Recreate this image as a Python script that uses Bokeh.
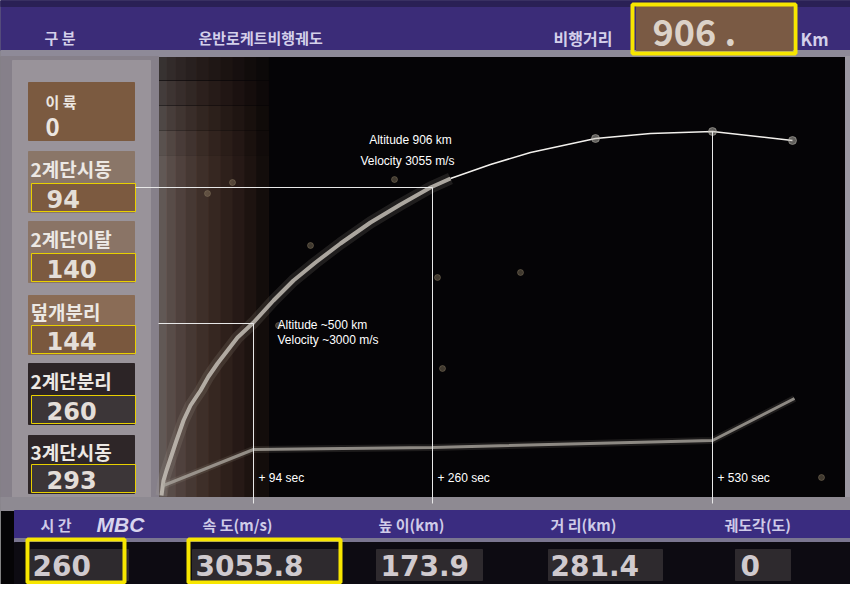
from bokeh.plotting import figure
from bokeh.models import Range1d
from bokeh.core.properties import value
from bokeh.embed import file_html
from bokeh.resources import INLINE

# flight track (plot units: x downrange, y altitude)
arc_x = [1, 3, 6, 10, 16, 23, 30, 40, 48, 57, 67, 77, 93, 113, 133, 155, 180, 210, 240, 270, 290]
arc_y = [0, 15, 25, 37, 55, 75, 90, 105, 119, 132, 145, 158, 173, 195, 215, 233, 252, 273, 291, 308, 317]
track_x = [290, 330, 370, 435, 490, 552, 632]
track_y = [317, 331, 343, 357, 362, 364, 355]
ground_x = [3, 93, 272, 552, 634]
ground_y = [10, 46, 48, 55, 97]
dot_x = [435, 552, 632]
dot_y = [357, 364, 355]
speck_x = [234, 277, 360, 282, 661, 72, 47, 150, 118]
speck_y = [316, 218, 223, 127, 18, 313, 302, 250, 170]

event_sec = [94, 260, 530]
event_x = [93, 272, 552]
event_y = [172, 308, 364]
leader_x0 = [-2, -25]
leader_y = [172, 308]

stage_labels = ["2계단시동", "2계단이탈", "덮개분리", "2계단분리", "3계단시동"]
stage_sec = [94, 140, 144, 260, 293]

tele_heads = ["시 간", "속 도(m/s)", "높 이(km)", "거 리(km)", "궤도각(도)"]
tele_vals = ["260", "3055.8", "173.9", "281.4", "0"]
range_km = 906

KR = value("Noto Sans CJK KR")
NUM = value("DejaVu Sans")
LAT = value("Liberation Sans")

p = figure(width=850, height=584, x_range=Range1d(0, 850), y_range=Range1d(584, 0),
           x_axis_location=None, y_axis_location=None, toolbar_location=None, tools="",
           output_backend="svg", min_border=0, outline_line_color=None,
           background_fill_color="#050406", border_fill_color="#050406")
p.grid.visible = False
p.extra_x_ranges = {"trk": Range1d(-160, 690)}
p.extra_y_ranges = {"trk": Range1d(-89, 495)}

# --- reddish reflection on the left of the screen
band_l = [158, 166, 175, 185, 196, 208, 220, 232, 244, 256]
band_c = ["#6c625e", "#625450", "#584844", "#4e3e38", "#45342e",
          "#3c2b25", "#33231e", "#2a1c18", "#201512", "#150e0c"]
p.quad(left=band_l, right=band_l[1:] + [268], top=56, bottom=497, color=band_c, alpha=0.9)
p.quad(left=158, right=268, top=[56, 80, 105, 130], bottom=[80, 105, 130, 155],
       color="#050406", alpha=[0.45, 0.32, 0.2, 0.08])

# --- top bar
p.quad(left=0, right=850, top=0, bottom=50, color="#3b2c78")
p.quad(left=0, right=850, top=0, bottom=6, color="#2a2055")
p.quad(left=0, right=850, top=50, bottom=56, color="#8e8a98")
p.quad(left=636, right=792, top=6, bottom=50, color="#7a5a44")
p.text(x=[44, 198, 553, 652, 800], y=[37, 37, 37, 29, 38],
       text=["구 분", "운반로케트비행궤도", "비행거리", f"{range_km} .", "Km"],
       text_font=KR, text_font_style="bold", text_baseline="middle",
       text_font_size=["15px", "15px", "16px", "36px", "17px"],
       text_color=["#d4d0ea", "#d4d0ea", "#d4d0ea", "#dcd2c8", "#d4d0ea"])
p.quad(left=632, right=795, top=4, bottom=53, fill_color=None,
       line_color="#f7e600", line_width=4)

# --- left panel
p.quad(left=0, right=158, top=56, bottom=503, color="#86808a")
p.quad(left=12, right=150, top=60, bottom=500, color="#99939a")
p.quad(left=28, right=134, top=82, bottom=140, color="#7b5a40")
p.text(x=[45, 45], y=[101, 126], text=["이 륙", "0"], text_font=KR, text_font_style="bold",
       text_font_size=["15px", "24px"], text_color="#ece6e0", text_baseline="middle")

label_top = [153, 223, 297, 365, 437]
value_top = [183, 253, 325, 395, 464]
value_bot = [211, 281, 353, 423, 492]
block = ["#8a7668", "#8a7466", "#8a6c56", "#2c2426", "#2e2628"]
box = ["#7c5a40", "#7c5a40", "#7a583e", "#3c3638", "#3c3638"]
p.quad(left=28, right=134, top=[t - 2 for t in label_top], bottom=[b + 1 for b in value_bot], color=block)
p.quad(left=32, right=134, top=value_top, bottom=value_bot, color=box)
p.text(x=30, y=[(a + b) / 2 for a, b in zip(label_top, value_top)], text=stage_labels,
       text_font=KR, text_font_style="bold", text_font_size="19px",
       text_color="#ece8e4", text_baseline="middle")
p.text(x=46, y=[(a + b) / 2 + 1 for a, b in zip(value_top, value_bot)], text=[str(s) for s in stage_sec],
       text_font=NUM, text_font_style="bold", text_font_size="24px",
       text_color="#e4ded8", text_baseline="middle")
p.quad(left=31, right=135, top=value_top, bottom=value_bot, fill_color=None,
       line_color="#e8d000", line_width=1)

# --- right strip and bottom frame
p.quad(left=845, right=850, top=56, bottom=503, color="#9c98a2")
p.quad(left=0, right=850, top=497, bottom=510, color="#8e8a92")

# --- bottom telemetry bar
p.quad(left=14, right=850, top=510, bottom=538, color="#3a2c80")
p.quad(left=14, right=850, top=538, bottom=542, color="#7a7690")
p.quad(left=14, right=850, top=542, bottom=584, color="#0d0b12")
p.quad(left=[30, 192, 376, 548, 735], right=[128, 340, 482, 662, 790],
       top=549, bottom=580, color="#2e2a2e")
p.text(x=[40, 202, 378, 550, 724], y=524, text=tele_heads, text_font=KR,
       text_font_style="bold", text_font_size="15px", text_color="#cfcbe8",
       text_baseline="middle")
p.text(x=[96], y=[524], text=["MBC"], text_font=LAT, text_font_style="bold italic",
       text_font_size="21px", text_color="#d8d4ee", text_baseline="middle")
p.text(x=[32, 195, 380, 550, 740], y=565, text=tele_vals, text_font=NUM,
       text_font_style="bold", text_font_size="28px", text_color="#d0cace",
       text_baseline="middle")
p.quad(left=[27, 188], right=[124, 340], top=539, bottom=582, fill_color=None,
       line_color="#f7e600", line_width=4)

# --- flight track
kw = dict(x_range_name="trk", y_range_name="trk")
p.scatter(speck_x, speck_y, size=6, color="#8a7a62", alpha=0.45, **kw)
p.line(arc_x, arc_y, line_width=12, color="#b8b0a4", alpha=0.15, **kw)
p.line(arc_x, arc_y, line_width=4, color="#c4beb6", alpha=0.85, **kw)
p.line(ground_x, ground_y, line_width=7, color="#a8a296", alpha=0.15, **kw)
p.line(ground_x, ground_y, line_width=3, color="#aaa59e", alpha=0.8, **kw)
p.line(track_x, track_y, line_width=1.5, color="#f2f0ec", **kw)
p.scatter(dot_x, dot_y, size=8, color="#bcb8b0", alpha=0.5, **kw)

# event markers
p.segment(x0=event_x, y0=event_y, x1=event_x, y1=-8, line_color="#e8e8e8", line_width=1, **kw)
p.segment(x0=leader_x0, y0=leader_y, x1=event_x[:2], y1=leader_y, line_color="#e8e8e8",
          line_width=1, **kw)
p.text(x=[e + 5 for e in event_x], y=18, text=[f"+ {s} sec" for s in event_sec],
       text_font=LAT, text_font_size="12px", text_color="white", text_baseline="middle", **kw)

p.text(x=[410, 407], y=[139, 160], text=["Altitude 906 km", "Velocity 3055 m/s"],
       text_font=LAT, text_font_size="12px", text_color="white", text_align="center",
       text_baseline="middle")
p.text(x=[277, 277], y=[324, 339], text=["Altitude ~500 km", "Velocity ~3000 m/s"],
       text_font=LAT, text_font_size="12px", text_color="white", text_baseline="middle")

open("out.html", "w").write(file_html(p, INLINE))
